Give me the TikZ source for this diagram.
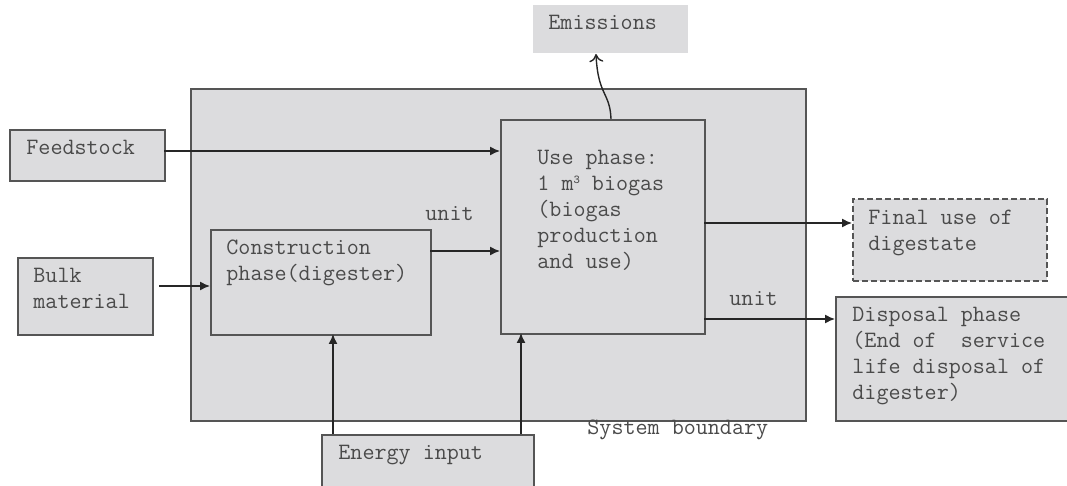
\documentclass[tikz,border=0pt]{standalone}
\usepackage{fontspec}
\usetikzlibrary{arrows.meta}
\definecolor{boxfill}{HTML}{DCDCDE}
\definecolor{boxline}{HTML}{555555}
\definecolor{txtcol}{HTML}{4A4A4A}
\newcommand{\lines}[1]{\begin{tabular}[t]{@{}l@{}}#1\end{tabular}}
\newcommand{\supthree}{\raisebox{0.75ex}{\fontsize{6}{6}\selectfont 3}}
\tikzset{
  box/.style={draw=boxline, fill=boxfill, line width=0.8pt, rectangle, inner sep=0pt, anchor=north west},
  plain/.style={fill=boxfill, draw=none, rectangle, inner sep=0pt, anchor=north west},
  txt/.style={text=txtcol, font=\ttfamily\fontsize{11.7}{13}\selectfont, inner sep=0pt, anchor=base west},
  conn/.style={draw=black!85, line width=0.7pt, -{Latex[length=5pt,width=4.5pt]}},
  openarrow/.style={draw=black!85, line width=0.7pt, -{To[length=4pt,width=7pt]}},
}
\begin{document}
\begin{tikzpicture}[x=0.5pt,y=-0.5pt]
\useasboundingbox (0,0) rectangle (1067,486);
\clip (0,0) rectangle (1067,486);
% system boundary
\node[box, minimum width=615*0.5pt, minimum height=332*0.5pt] (sys) at (190,88) {};
% boxes
\node[plain, minimum width=155*0.5pt, minimum height=48*0.5pt] (emis) at (533,5) {};
\node[box, minimum width=155*0.5pt, minimum height=51*0.5pt] (feed) at (9,129) {};
\node[box, minimum width=135*0.5pt, minimum height=77*0.5pt] (bulk) at (17,257) {};
\node[box, minimum width=220*0.5pt, minimum height=105*0.5pt] (cons) at (210,229) {};
\node[box, minimum width=204*0.5pt, minimum height=214*0.5pt] (use) at (500,119) {};
\node[box, dashed, dash pattern=on 3pt off 1.5pt, minimum width=194*0.5pt, minimum height=82*0.5pt] (final) at (852,198) {};
\node[box, minimum width=240*0.5pt, minimum height=124*0.5pt] (disp) at (835,296) {};
\node[box, minimum width=212*0.5pt, minimum height=60*0.5pt] (energy) at (321,434) {};
% texts
\node[txt] (temis) at (548,30) {Emissions};
\node[txt] (tfeed) at (26,155) {Feedstock};
\node[txt] (tbulk) at (33,283) {\lines{Bulk\\material}};
\node[txt] (tcons) at (226,255) {\lines{Construction\\phase(digester)}};
\node[txt] (tuse) at (537,165) {\lines{Use phase:\\1 m\supthree\ biogas\\(biogas\\production\\and use)}};
\node[txt] (tfinal) at (868,225) {\lines{Final use of\\digestate}};
\node[txt] (tdisp) at (852,322) {\lines{Disposal phase\\(End of~ service\\life disposal of\\digester)}};
\node[txt] (tenergy) at (338,460) {Energy input};
\node[txt] (tsys) at (587,435) {System boundary};
\node[txt] (unit1) at (425,221) {unit};
\node[txt] (unit2) at (729,306) {unit};
% anchors for connectors
\coordinate (feedout) at (164,151);
\coordinate (usefeed) at (500,151);
\coordinate (bulkout) at (159,286);
\coordinate (consin) at (210,286);
\coordinate (consout) at (430,251);
\coordinate (usecons) at (500,251);
\coordinate (usefin) at (704,223);
\coordinate (finin) at (852,223);
\coordinate (usedisp) at (704,319);
\coordinate (dispin) at (835,319);
\coordinate (en1) at (333,434);
\coordinate (cons1) at (333,334);
\coordinate (en2) at (521,434);
\coordinate (use2) at (521,333);
\coordinate (usetop) at (611,119);
\coordinate (emisbot) at (596,54);
% connectors
\draw[conn] (feedout) -- (usefeed);
\draw[conn] (bulkout) -- (consin);
\draw[conn] (consout) -- (usecons);
\draw[conn] (usefin) -- (finin);
\draw[conn] (usedisp) -- (dispin);
\draw[conn] (en1) -- (cons1);
\draw[conn] (en2) -- (use2);
\draw[openarrow] (usetop) .. controls (610,92) and (598,96) .. (emisbot);
\end{tikzpicture}
\end{document}
